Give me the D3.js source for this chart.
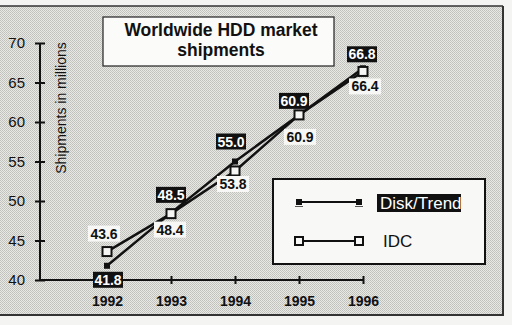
<!DOCTYPE html>
<html><head><meta charset="utf-8">
<script src="https://cdn.jsdelivr.net/npm/d3@7"></script>
<style>html,body{margin:0;padding:0;background:#f4f4f2;}svg{display:block;}</style>
</head><body>
<svg id="c" width="512" height="325"></svg>
<script>
const years = [1992, 1993, 1994, 1995, 1996];
const diskTrend = [41.8, 48.5, 55.0, 60.9, 66.8];
const idc = [43.6, 48.4, 53.8, 60.9, 66.4];
const yTicks = [40, 45, 50, 55, 60, 65, 70];
const titleLines = ["Worldwide HDD market", "shipments"];
const seriesNames = ["Disk/Trend", "IDC"];
const yLabel = "Shipments in millions";

const svg = d3.select("#c");
const font = "'Liberation Sans', Arial, Helvetica, sans-serif";

// background texture
const defs = svg.append("defs");
const pat = defs.append("pattern").attr("id","dots").attr("width",2).attr("height",2).attr("patternUnits","userSpaceOnUse");
pat.append("rect").attr("width",2).attr("height",2).attr("fill","#e8e8e5");
pat.append("rect").attr("width",1).attr("height",1).attr("fill","#bfc0bc");
pat.append("rect").attr("x",1).attr("y",1).attr("width",1).attr("height",1).attr("fill","#c6c7c3");

svg.append("rect").attr("x",0).attr("y",6).attr("width",503).attr("height",309).attr("fill","url(#dots)");
svg.append("line").attr("x1",0).attr("x2",503).attr("y1",6).attr("y2",6).attr("stroke","#333").attr("stroke-width",1.5);
svg.append("line").attr("x1",503).attr("x2",503).attr("y1",6).attr("y2",316).attr("stroke","#333").attr("stroke-width",2);
svg.append("line").attr("x1",0).attr("x2",504).attr("y1",315).attr("y2",315).attr("stroke","#333").attr("stroke-width",2);

const x = d3.scaleLinear().domain([1992, 1996]).range([107, 363]);
const y = d3.scaleLinear().domain([40, 70]).range([280, 43]);
const axisX0 = 40;

// y axis
const gy = svg.append("g").attr("transform",`translate(${axisX0},0)`)
  .call(d3.axisLeft(y).tickValues(yTicks).tickSize(5).tickPadding(10).tickFormat(d3.format("d")));
gy.select(".domain").remove();
gy.selectAll(".tick line").attr("x1",-5).attr("x2",5).attr("stroke","#111").attr("stroke-width",2);
gy.selectAll(".tick text").attr("font-family",font).attr("font-size",15).attr("fill","#111");
gy.append("line").attr("x1",0).attr("x2",0).attr("y1",y(70)).attr("y2",y(40)).attr("stroke","#111").attr("stroke-width",2);

// x axis
const gx = svg.append("g").attr("transform",`translate(0,${y(40)})`)
  .call(d3.axisBottom(x).tickValues(years).tickSize(4).tickPadding(12).tickFormat(d3.format("d")));
gx.select(".domain").remove();
gx.selectAll(".tick line").attr("y1",-4).attr("y2",4).attr("stroke","#111").attr("stroke-width",2);
gx.selectAll(".tick text").attr("font-family",font).attr("font-size",14).attr("font-weight","bold").attr("fill","#111");
gx.append("line").attr("x1",axisX0).attr("x2",x(1996)).attr("y1",0).attr("y2",0).attr("stroke","#111").attr("stroke-width",2);

// y label
svg.append("text").attr("transform",`translate(66,108) rotate(-90)`).attr("text-anchor","middle")
  .attr("font-family",font).attr("font-size",14).attr("fill","#111").text(yLabel);

// title box
svg.append("rect").attr("x",103).attr("y",17).attr("width",231).attr("height",49).attr("fill","#fbfbf9").attr("stroke","#222").attr("stroke-width",1.2);
svg.append("text").attr("x",221).attr("y",36).attr("text-anchor","middle").attr("font-family",font).attr("font-weight","bold").attr("font-size",17.5).attr("fill","#111").text(titleLines[0]);
svg.append("text").attr("x",221).attr("y",56).attr("text-anchor","middle").attr("font-family",font).attr("font-weight","bold").attr("font-size",17.5).attr("fill","#111").text(titleLines[1]);

// lines
const line = d3.line().x((d,i)=>x(years[i])).y(d=>y(d));
svg.append("path").datum(idc).attr("d",line).attr("fill","none").attr("stroke","#111").attr("stroke-width",2.5);
svg.append("path").datum(diskTrend).attr("d",line).attr("fill","none").attr("stroke","#111").attr("stroke-width",2.5);

// markers
svg.selectAll(".dm").data(diskTrend).join("rect").attr("x",(d,i)=>x(years[i])-3).attr("y",d=>y(d)-3).attr("width",6).attr("height",6).attr("fill","#111");
svg.selectAll(".im").data(idc).join("rect").attr("x",(d,i)=>x(years[i])-4.5).attr("y",d=>y(d)-4.5).attr("width",9).attr("height",9).attr("fill","#f5f5f3").attr("stroke","#111").attr("stroke-width",2);

// Disk/Trend labels (black boxes)
const dOff = [[1,14],[0,-18],[-4,-20],[-5,-14],[-1,-14]];
const dl = svg.selectAll(".dl").data(diskTrend).join("g")
  .attr("transform",(d,i)=>`translate(${x(years[i])+dOff[i][0]},${y(d)+dOff[i][1]})`);
dl.append("rect").attr("x",-15).attr("y",-8).attr("width",30).attr("height",16).attr("fill","#111");
dl.append("text").attr("y",5).attr("text-anchor","middle").attr("font-family",font).attr("font-weight","bold").attr("font-size",14).attr("fill","#fff").text(d=>d.toFixed(1));

// IDC labels (white boxes)
const iOff = [[-3,-18],[-1,16],[-2,13],[1,22],[2,15]];
const il = svg.selectAll(".il").data(idc).join("g")
  .attr("transform",(d,i)=>`translate(${x(years[i])+iOff[i][0]},${y(d)+iOff[i][1]})`);
il.append("rect").attr("x",-16).attr("y",-8).attr("width",32).attr("height",16).attr("fill","#f7f7f5");
il.append("text").attr("y",5).attr("text-anchor","middle").attr("font-family",font).attr("font-weight","bold").attr("font-size",14).attr("fill","#111").text(d=>d.toFixed(1));

// legend
const lg = svg.append("g");
lg.append("rect").attr("x",273).attr("y",179).attr("width",212).attr("height",85).attr("fill","#f8f8f6").attr("stroke","#111").attr("stroke-width",2);
const lx1 = 299, lx2 = 359;
lg.append("line").attr("x1",lx1).attr("x2",lx2).attr("y1",202).attr("y2",202).attr("stroke","#111").attr("stroke-width",2);
[lx1,lx2].forEach(px=>{
  lg.append("rect").attr("x",px-3).attr("y",199).attr("width",6).attr("height",6).attr("fill","#111");
  lg.append("line").attr("x1",px-4).attr("x2",px+4).attr("y1",206.5).attr("y2",206.5).attr("stroke","#555").attr("stroke-width",1);
});
lg.append("rect").attr("x",377).attr("y",194).attr("width",84).attr("height",18).attr("fill","#111");
lg.append("text").attr("x",380).attr("y",209).attr("font-family",font).attr("font-size",17).attr("fill","#fff").text(seriesNames[0]);
lg.append("line").attr("x1",lx1).attr("x2",lx2).attr("y1",241).attr("y2",241).attr("stroke","#111").attr("stroke-width",2);
[lx1,lx2].forEach(px=>{
  lg.append("rect").attr("x",px-4).attr("y",237).attr("width",8).attr("height",8).attr("fill","#f8f8f6").attr("stroke","#111").attr("stroke-width",2);
});
lg.append("text").attr("x",383).attr("y",247).attr("font-family",font).attr("font-size",17).attr("fill","#111").text(seriesNames[1]);
</script>
</body></html>
